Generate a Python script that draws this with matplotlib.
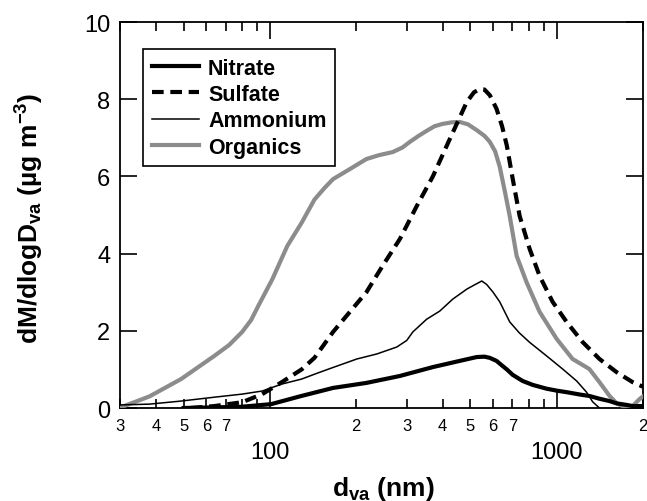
import matplotlib
matplotlib.use('Agg')
import matplotlib.pyplot as plt
import numpy as np

plt.rcParams['font.family'] = ['Liberation Sans', 'DejaVu Sans']
plt.rcParams['mathtext.fontset'] = 'custom'
plt.rcParams['mathtext.rm'] = 'Liberation Sans'
plt.rcParams['mathtext.bf'] = 'Liberation Sans:bold'
plt.rcParams['mathtext.default'] = 'bf'

# size distributions (d_va in nm, dM/dlogD_va in ug/m3)
nitrate_d = [50, 79, 101, 127, 166, 217, 284, 370, 459, 526, 560, 584, 617, 645, 670, 702, 761,
             824, 922, 1000, 1083, 1202, 1303, 1410, 1528, 1617, 1754, 1840, 2000]
nitrate_v = [0, 0.03, 0.1, 0.3, 0.52, 0.65, 0.83, 1.06, 1.22, 1.32, 1.33, 1.3, 1.22, 1.1, 1.0, 0.86, 0.7,
             0.6, 0.5, 0.45, 0.41, 0.35, 0.31, 0.24, 0.18, 0.12, 0.08, 0.05, 0.05]

sulfate_d = [53, 64, 80, 94, 110, 129, 143, 166, 190, 217, 247, 284, 325, 370, 424, 486, 515,
             539, 560, 585, 617, 645, 670, 702, 743, 805, 872, 968, 1083, 1231, 1410, 1617, 1840, 2000]
sulfate_v = [0, 0.05, 0.15, 0.36, 0.67, 1.0, 1.3, 1.97, 2.49, 3.0, 3.68, 4.38, 5.23, 6.0, 6.97, 7.93, 8.18,
             8.26, 8.25, 8.1, 7.75, 7.3, 6.8, 5.95, 4.97, 4.12, 3.42, 2.75, 2.23, 1.71, 1.27, 0.93, 0.67, 0.55]

ammonium_d = [30, 38, 49, 64, 80, 94, 110, 129, 146, 166, 201, 236, 277, 300, 315, 352, 391, 434,
              486, 520, 548, 570, 600, 633, 686, 740, 805, 922, 1049, 1174, 1271, 1335, 1410]
ammonium_v = [0.08, 0.1, 0.18, 0.28, 0.36, 0.44, 0.62, 0.75, 0.9, 1.05, 1.27, 1.4, 1.58, 1.75, 1.97, 2.3, 2.51, 2.82,
              3.08, 3.2, 3.29, 3.2, 3.0, 2.75, 2.23, 1.95, 1.7, 1.35, 1.01, 0.7, 0.41, 0.16, 0]

organics_d = [30, 31, 38, 49, 64, 72, 80, 86, 91, 102, 115, 129, 143, 155, 166, 190, 217, 240, 268,
              290, 307, 330, 352, 375, 400, 430, 459, 490, 526, 560, 584, 610, 633, 660, 686, 725,
              785, 872, 1000, 1136, 1300, 1410, 1530, 1620, 1700, 1840, 1945, 2000]
organics_v = [0, 0.05, 0.3, 0.75, 1.35, 1.63, 1.97, 2.28, 2.64, 3.34, 4.2, 4.8, 5.4, 5.7, 5.93, 6.19, 6.45, 6.55, 6.63,
              6.75, 6.89, 7.05, 7.18, 7.3, 7.36, 7.4, 7.41, 7.35, 7.2, 7.05, 6.9, 6.65, 6.25, 5.6, 4.97, 3.94,
              3.26, 2.49, 1.79, 1.27, 1.01, 0.67, 0.31, 0.12, 0.05, 0.05, 0.23, 0.3]

minor_pos = [30, 40, 50, 60, 70, 80, 90, 200, 300, 400, 500, 600, 700, 800, 900, 2000]
minor_lab = ['3', '4', '5', '6', '7', '', '', '2', '3', '4', '5', '6', '7', '', '', '2']
major_pos = [100, 1000]
major_lab = ['100', '1000']

fig = plt.figure(figsize=(6.47, 5.02), dpi=100)
ax = fig.add_axes([120 / 647, 1 - 409 / 502, 523 / 647, 386 / 502])

ax.plot(nitrate_d, nitrate_v, color='black', lw=3.0, label='Nitrate', zorder=5,
        solid_joinstyle='round')
ax.plot(sulfate_d, sulfate_v, color='black', lw=3.0, ls=(0, (2.8, 1.6)), label='Sulfate', zorder=4)
ax.plot(ammonium_d, ammonium_v, color='black', lw=1.1, label='Ammonium', zorder=6,
        solid_joinstyle='round')
ax.plot(organics_d, organics_v, color='#8c8c8c', lw=3.0, label='Organics', zorder=3,
        solid_joinstyle='round')

ax.set_xscale('log')
ax.set_xlim(30, 2000)
ax.set_ylim(0, 10)
ax.set_yticks([0, 2, 4, 6, 8, 10])

ax.set_xticks(major_pos, labels=major_lab)
ax.set_xticks(minor_pos, labels=minor_lab, minor=True)

ax.tick_params(which='both', direction='in', top=True, right=True, width=1.2)
ax.tick_params(which='major', length=12)
ax.tick_params(which='minor', length=6.5)
ax.tick_params(axis='x', which='major', labelsize=17, pad=24)
ax.tick_params(axis='x', which='minor', labelsize=12, pad=7.5)
ax.tick_params(axis='y', labelsize=17, pad=7)
for s in ax.spines.values():
    s.set_linewidth(1.3)

fig.text(30 / 647, 1 - 218 / 502, 'dM/dlogD$_{va}$ (µg m$^{-3}$)', rotation=90,
         ha='center', va='center', fontsize=19, fontweight='bold')
fig.text(383 / 647, 1 - 496 / 502, 'd$_{va}$ (nm)', ha='center', va='baseline',
         fontsize=19, fontweight='bold')

leg = ax.legend(loc='upper left', bbox_to_anchor=(23 / 523, 359 / 386), borderaxespad=0,
                prop={'weight': 'bold', 'size': 15.5}, handlelength=2.2, handletextpad=0.42,
                borderpad=0.4, labelspacing=0.25, fancybox=False, framealpha=1, edgecolor='black')
leg.get_frame().set_linewidth(1.2)

fig.savefig('out.png', dpi=100)
